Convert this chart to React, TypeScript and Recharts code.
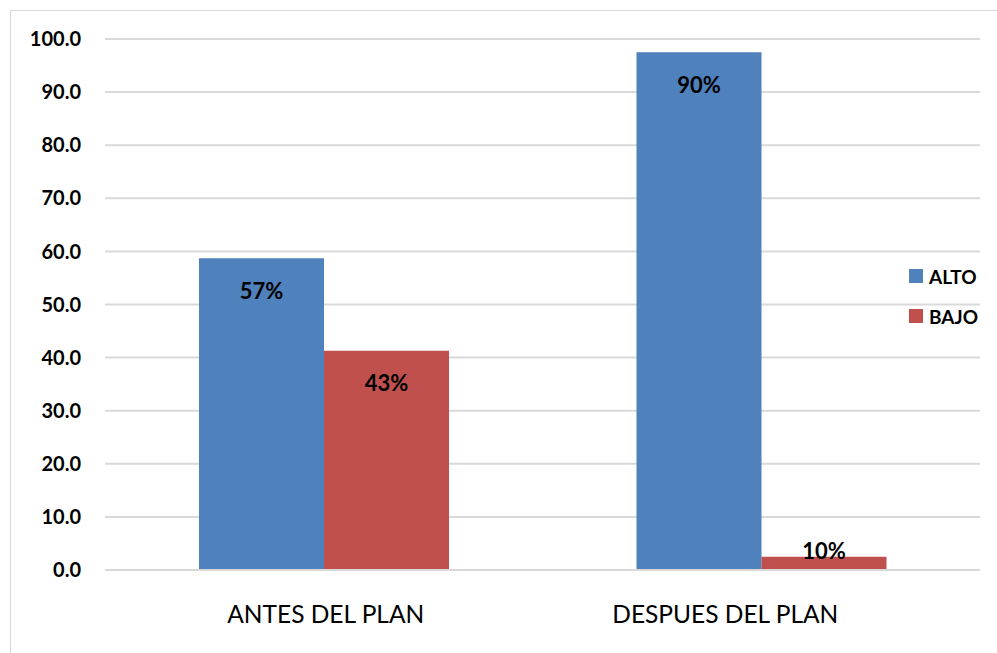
import { BarChart, Bar, XAxis, YAxis, CartesianGrid, Legend, LabelList } from 'recharts';

const categories = ['ANTES DEL PLAN', 'DESPUES DEL PLAN'];
const alto = [58.7, 97.5];
const bajo = [41.3, 2.5];
const altoLabels = ['57%', '90%'];
const bajoLabels = ['43%', '10%'];
const yTicks = [0, 10, 20, 30, 40, 50, 60, 70, 80, 90, 100];

const data = categories.map((name, i) => ({
  name,
  ALTO: alto[i],
  BAJO: bajo[i],
  altoLabel: altoLabels[i],
  bajoLabel: bajoLabels[i],
}));

const FONT = "Lato, 'Liberation Sans', sans-serif";
const BLUE = '#4f81bd';
const RED = '#c0504d';

function BarLabel(props: any) {
  const { x, y, width, height, value } = props;
  // short bars get the label just above, like the Excel original
  const cy = height > 40 ? y + 32 : y - 6;
  return (
    <text
      x={x + width / 2}
      y={cy}
      textAnchor="middle"
      dominantBaseline="central"
      fontFamily={FONT}
      fontWeight={700}
      fontSize={22}
      fill="#000"
    >
      {value}
    </text>
  );
}

// the second category label sits a bit left of its bars in the original
function CategoryTick(props: any) {
  const { x, y, payload, index } = props;
  const dx = index === 1 ? -36 : 2;
  return (
    <text x={x + dx} y={y} dy={17} textAnchor="middle" fontFamily={FONT} fontSize={24.5} fill="#000">
      {payload.value}
    </text>
  );
}

function LegendBox() {
  const items = [
    { name: 'ALTO', color: BLUE },
    { name: 'BAJO', color: RED },
  ];
  return (
    <svg width={84} height={80}>
      {items.map((it, i) => (
        <g key={it.name} transform={`translate(0, ${10 + i * 40})`}>
          <rect x={0} y={0} width={14} height={14} fill={it.color} />
          <text x={20} y={7} dominantBaseline="central" fontFamily={FONT} fontWeight={700} fontSize={19} fill="#000">
            {it.name}
          </text>
        </g>
      ))}
    </svg>
  );
}

export default function App() {
  return (
    <div style={{ position: 'absolute', left: 0, top: 0, width: 997, height: 653, overflow: 'hidden', background: '#fff' }}>
      <div
        style={{
          position: 'absolute',
          left: 10,
          top: 10,
          width: 1100,
          height: 800,
          borderLeft: '1.5px solid #d9d9d9',
          borderTop: '1.5px solid #d9d9d9',
        }}
      />
      <BarChart
        width={997}
        height={653}
        data={data}
        margin={{ top: 39, right: 17, left: 0, bottom: 23 }}
        barSize={125}
        barGap={0}
        style={{ position: 'absolute', left: 0, top: 0 }}
      >
        <CartesianGrid vertical={false} stroke="#d9d9d9" strokeWidth={2} />
        <XAxis
          dataKey="name"
          height={60}
          tickSize={0}
          tickMargin={36}
          axisLine={{ stroke: '#d9d9d9', strokeWidth: 2 }}
          tickLine={false}
          tick={<CategoryTick />}
        />
        <YAxis
          width={105}
          domain={[0, 100]}
          ticks={yTicks}
          tickFormatter={(v: number) => v.toFixed(1)}
          axisLine={false}
          tickLine={false}
          tickSize={0}
          tickMargin={24}
          tick={{ fill: '#000', fontFamily: FONT, fontSize: 20, fontWeight: 700 }}
        />
        <Legend
          layout="vertical"
          align="center"
          verticalAlign="middle"
          content={() => <LegendBox />}
          wrapperStyle={{ left: 909, top: 259, width: 84, height: 80 }}
        />
        <Bar dataKey="ALTO" fill={BLUE} isAnimationActive={false}>
          <LabelList dataKey="altoLabel" content={BarLabel} />
        </Bar>
        <Bar dataKey="BAJO" fill={RED} isAnimationActive={false}>
          <LabelList dataKey="bajoLabel" content={BarLabel} />
        </Bar>
      </BarChart>
    </div>
  );
}
